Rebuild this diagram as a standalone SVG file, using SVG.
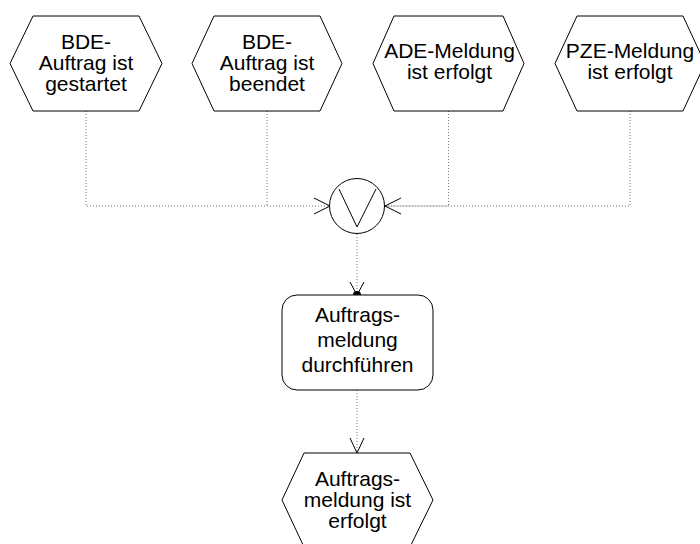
<svg xmlns="http://www.w3.org/2000/svg" width="700" height="544" viewBox="0 0 700 544">
<style>
.shape{fill:#fff;stroke:#000;stroke-width:1}
.t{font-family:"Liberation Sans",Arial,sans-serif;font-size:21px;fill:#000;text-anchor:middle}
.c{fill:none;stroke:#777;stroke-width:1;stroke-dasharray:1,2}
.a{fill:none;stroke:#000;stroke-width:1}
</style>
<rect width="700" height="544" fill="#fff"/>
<g id="connectors">
<path class="c" d="M86,111 V206 H330"/>
<path class="c" d="M267,111 V206"/>
<path class="c" d="M448.5,111 V206 H385"/>
<path class="c" d="M630,111 V206 H385"/>
<path class="c" d="M357,234 V295"/>
<path class="c" d="M357,390 V453"/>
<path class="a" d="M314,198 L330,206 L314,214"/>
<path class="a" d="M401,198 L385,206 L401,214"/>
<path class="a" d="M350,282 L357,295 L364,282"/>
<circle cx="357" cy="295" r="4" fill="#000"/>
<path class="a" d="M350,438 L357,453 L364,438"/>
</g>
<g id="e1">
<polygon class="shape" points="10,63.5 33,16 139,16 162,63.5 139,111 33,111"/>
<text class="t" x="86" y="49">BDE-</text>
<text class="t" x="86" y="70">Auftrag ist</text>
<text class="t" x="86" y="91">gestartet</text>
</g>
<g id="e2">
<polygon class="shape" points="192,63.5 214,16 320,16 342,63.5 320,111 214,111"/>
<text class="t" x="267" y="49">BDE-</text>
<text class="t" x="267" y="70">Auftrag ist</text>
<text class="t" x="267" y="91">beendet</text>
</g>
<g id="e3">
<polygon class="shape" points="373,63.5 394,16 503,16 524,63.5 503,111 394,111"/>
<text class="t" x="449.5" y="57.5">ADE-Meldung</text>
<text class="t" x="449.5" y="78.5">ist erfolgt</text>
</g>
<g id="e4">
<polygon class="shape" points="555,63.5 577,16 683,16 705,63.5 683,111 577,111"/>
<text class="t" x="630" y="57.5">PZE-Meldung</text>
<text class="t" x="630" y="78.5">ist erfolgt</text>
</g>
<g id="xor">
<circle class="shape" cx="357" cy="206" r="27.5"/>
<path class="a" d="M339,189 L357,227 L376,189"/>
</g>
<g id="f1">
<rect class="shape" x="282" y="295" width="151" height="95" rx="15" ry="15"/>
<text class="t" x="357.5" y="322">Auftrags-</text>
<text class="t" x="357.5" y="347">meldung</text>
<text class="t" x="357.5" y="372">durchführen</text>
</g>
<g id="e5">
<polygon class="shape" points="282,500 304,453 410,453 433,500 410,547 304,547"/>
<text class="t" x="357.5" y="486">Auftrags-</text>
<text class="t" x="357.5" y="507">meldung ist</text>
<text class="t" x="357.5" y="528">erfolgt</text>
</g>
</svg>
